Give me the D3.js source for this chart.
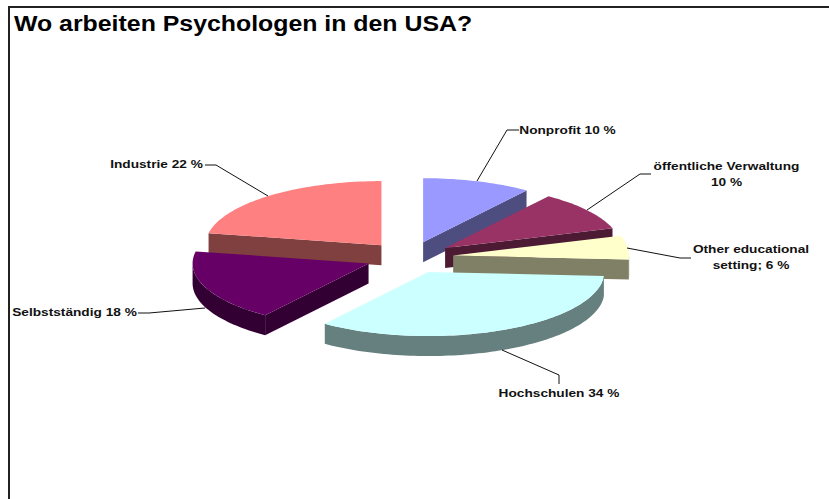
<!DOCTYPE html>
<html>
<head>
<meta charset="utf-8">
<script src="https://cdn.jsdelivr.net/npm/d3@7"></script>
<style>
  html, body { margin: 0; padding: 0; background: #fff; }
  svg { display: block; font-family: "Liberation Sans", Arial, sans-serif; font-weight: bold; }
</style>
</head>
<body>
<svg id="chart" width="829" height="499"></svg>
<script>
const categories = ['Nonprofit', 'öffentliche Verwaltung', 'Other educational setting', 'Hochschulen', 'Selbstständig', 'Industrie'];
const shares = [10, 10, 6, 34, 18, 22];
const topColors = ['#9999ff', '#993366', '#ffffcc', '#ccffff', '#660066', '#ff8080'];
const sideColors = ['#4d4d80', '#4d1a33', '#808066', '#668080', '#330033', '#804040'];

const svg = d3.select('#chart');

// frame, the picture is cut off on the right and at the bottom
svg.append('path')
  .attr('d', 'M9,499V7H829')
  .attr('fill', 'none')
  .attr('stroke', '#222')
  .attr('stroke-width', 2);

// the original text is stretched sideways
svg.append('text')
  .attr('transform', 'translate(14,31) scale(1.157,1)')
  .attr('font-size', 21.5)
  .text('Wo arbeiten Psychologen in den USA?');

// pie geometry, tilted by squashing y
const cx = 409.5, cy = 257.5, radius = 176, tilt = 0.364, explode = 44, depth = 20;
const arcs = d3.pie().sort(null).value((d) => d)(shares);
const lineGen = d3.line();

const px = (a, r) => r * Math.sin(a);
const py = (a, r) => -r * tilt * Math.cos(a);

function rimPoints(a0, a1, dx, dy, dz) {
  const n = Math.max(2, Math.ceil((a1 - a0) * 40));
  return d3.range(n + 1).map((i) => {
    const a = a0 + (a1 - a0) * i / n;
    return [dx + px(a, radius), dy + py(a, radius) + dz];
  });
}

// back to front so nearer slices overlap
const drawOrder = [0, 1, 2, 5, 4, 3];
drawOrder.forEach((i) => {
  const { startAngle: a0, endAngle: a1 } = arcs[i];
  const mid = (a0 + a1) / 2;
  const dx = cx + px(mid, explode);
  const dy = cy + py(mid, explode);
  const g = svg.append('g').attr('data-category', categories[i]);

  // cut faces
  [a0, a1].forEach((a, j) => {
    const visible = j === 0 ? Math.sin(a) < -1e-6 : Math.sin(a) > 1e-6;
    if (!visible) return;
    const ex = dx + px(a, radius), ey = dy + py(a, radius);
    g.append('path')
      .attr('d', lineGen([[dx, dy], [ex, ey], [ex, ey + depth], [dx, dy + depth]]) + 'Z')
      .attr('fill', sideColors[i]);
  });

  // outer wall, only the part facing the viewer
  const w0 = Math.max(a0, Math.PI / 2), w1 = Math.min(a1, Math.PI * 1.5);
  if (w1 > w0) {
    const upper = rimPoints(w0, w1, dx, dy, 0);
    const lower = rimPoints(w0, w1, dx, dy, depth).reverse();
    g.append('path')
      .attr('d', lineGen(upper.concat(lower)) + 'Z')
      .attr('fill', sideColors[i]);
  }

  // top surface
  const top = [[dx, dy]].concat(rimPoints(a0, a1, dx, dy, 0));
  g.append('path')
    .attr('d', lineGen(top) + 'Z')
    .attr('fill', topColors[i]);
});

// labels with their leader lines
const labelLines = [
  ['Nonprofit 10 %'],
  ['öffentliche Verwaltung', '10 %'],
  ['Other educational', 'setting; 6 %'],
  ['Hochschulen 34 %'],
  ['Selbstständig 18 %'],
  ['Industrie 22 %']
];
const labelX = [567.5, 726.5, 751, 559, 74.5, 156.5];
const labelY = [134, 170, 253, 397, 316, 168];
const leaders = [
  [[477, 181], [507, 130], [519, 130]],
  [[587, 210], [640, 174], [651, 174]],
  [[627, 248], [680, 258], [691, 258]],
  [[502, 350], [559, 375], [559, 384]],
  [[205, 308], [149, 313], [138, 313]],
  [[268, 196], [216, 165], [205, 165]]
];

leaders.forEach((pts) => {
  svg.append('path')
    .attr('d', lineGen(pts))
    .attr('fill', 'none')
    .attr('stroke', '#111')
    .attr('stroke-width', 1);
});

labelLines.forEach((lines, i) => {
  lines.forEach((line, j) => {
    svg.append('text')
      .attr('transform', `translate(${labelX[i]},${labelY[i] + j * 16}) scale(1.19,1)`)
      .attr('text-anchor', 'middle')
      .attr('font-size', 11.5)
      .attr('fill', '#111')
      .text(line);
  });
});
</script>
</body>
</html>
